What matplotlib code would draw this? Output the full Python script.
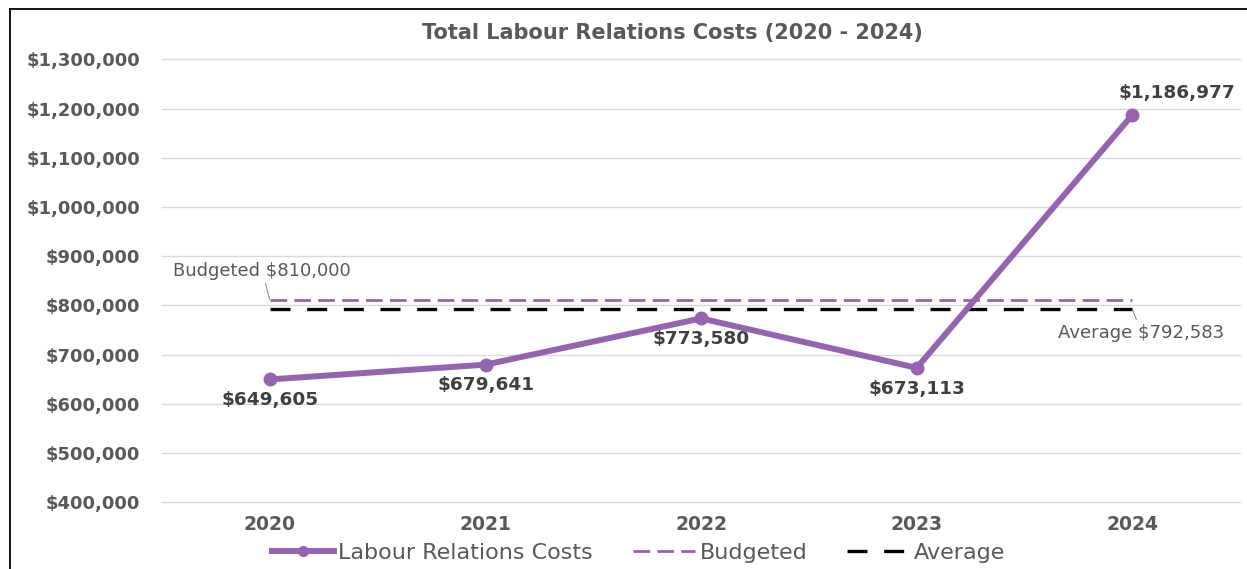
import matplotlib
matplotlib.use("Agg")
import matplotlib.pyplot as plt
from matplotlib.ticker import FuncFormatter
from matplotlib.lines import Line2D

plt.rcParams['font.family'] = ['DejaVu Sans']

years = ['2020', '2021', '2022', '2023', '2024']
costs = [649605, 679641, 773580, 673113, 1186977]
budgeted = 810000
average = 792583
y_ticks = [400000, 500000, 600000, 700000, 800000, 900000, 1000000,
           1100000, 1200000, 1300000]

purple = '#9563B0'
text_gray = '#595959'
label_gray = '#404040'
budget_dash = (0, (6, 2.6))
avg_dash = (0, (6, 5))

fig = plt.figure(figsize=(12.47, 5.69), dpi=100)
ax = fig.add_axes([0.130, 0.1172, 0.8645, 0.7786])

x = list(range(len(years)))
ax.plot(x, costs, color=purple, lw=4.3, marker='o', ms=9, zorder=4,
        solid_capstyle='round')
ax.plot([x[0], x[-1]], [budgeted, budgeted], color=purple, lw=2,
        ls=budget_dash, zorder=3)
ax.plot([x[0], x[-1]], [average, average], color='black', lw=2.4,
        ls=avg_dash, zorder=3)

ax.set_xlim(-0.5, 4.5)
ax.set_ylim(400000, 1300000)
ax.set_yticks(y_ticks)
ax.yaxis.set_major_formatter(FuncFormatter(lambda v, p: f'${v:,.0f}'))
ax.set_xticks(x)
ax.set_xticklabels(years)
ax.tick_params(axis='both', length=0, labelcolor=text_gray)
ax.tick_params(axis='y', pad=16, labelsize=13)
ax.tick_params(axis='x', pad=9, labelsize=13.5)
for lab in ax.get_xticklabels() + ax.get_yticklabels():
    lab.set_fontweight('bold')

ax.grid(axis='y', color='#D9D9D9', lw=1)
for gl in ax.yaxis.get_gridlines():
    gl.set_clip_on(False)
ax.set_axisbelow(True)
for s in ax.spines.values():
    s.set_visible(False)

# value labels on each point
offsets = [(0, -15), (0, -15), (0, -15), (0, -15), (32, 16)]
for xi, v, (dx, dy) in zip(x, costs, offsets):
    ax.annotate(f'${v:,.0f}', (xi, v), xytext=(dx, dy),
                textcoords='offset points', ha='center', va='center',
                fontsize=13.3, fontweight='bold', color=label_gray)

# reference line callouts
ax.annotate(f'Budgeted ${budgeted:,.0f}', xy=(x[0], budgeted),
            xytext=(-5.5, 21.5), textcoords='offset points', ha='center',
            va='center', fontsize=13, color=text_gray,
            arrowprops=dict(arrowstyle='-', color='#8C8C8C', lw=0.8,
                            shrinkA=1, shrinkB=1))
ax.annotate(f'Average ${average:,.0f}', xy=(x[-1], average),
            xytext=(6.5, -17), textcoords='offset points', ha='center',
            va='center', fontsize=13, color=text_gray,
            arrowprops=dict(arrowstyle='-', color='#8C8C8C', lw=0.8,
                            shrinkA=1, shrinkB=1))

fig.text(0.539, 0.942, 'Total Labour Relations Costs (2020 - 2024)',
         ha='center', va='center', fontsize=15, fontweight='bold',
         color=text_gray)

handles = [
    Line2D([], [], color=purple, lw=4.3, marker='o', ms=7),
    Line2D([], [], color=purple, lw=2, ls=budget_dash),
    Line2D([], [], color='black', lw=2.4, ls=avg_dash),
]
leg = fig.legend(handles, ['Labour Relations Costs', 'Budgeted', 'Average'],
                 loc='center', bbox_to_anchor=(0.512, 0.028), ncol=3,
                 frameon=False, fontsize=16, handlelength=2.8,
                 handletextpad=0.2, columnspacing=1.8)
for t in leg.get_texts():
    t.set_color(text_gray)

# frame on the left and top edges
fig.add_artist(Line2D([0.008, 0.008], [0.0, 0.984], transform=fig.transFigure,
                      color='black', lw=1.3))
fig.add_artist(Line2D([0.008, 1.0], [0.984, 0.984], transform=fig.transFigure,
                      color='black', lw=1.3))

fig.savefig('out.png', dpi=100, facecolor='white')
